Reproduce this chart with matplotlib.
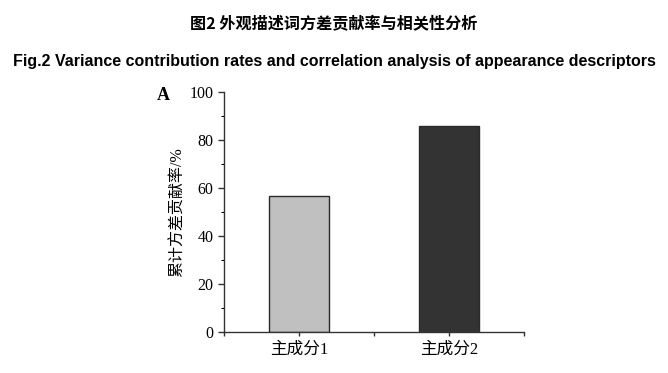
import matplotlib.pyplot as plt
import numpy as np

cn_serif = ['Liberation Serif', 'Noto Sans CJK SC']
cn_sans = ['Noto Sans CJK SC', 'DejaVu Sans']

labels = ['主成分1', '主成分2']
values = [56.7, 86.0]
colors = ['#c0c0c0', '#333333']

plt.rcParams['font.family'] = cn_serif

fig = plt.figure(figsize=(6.68, 3.73), dpi=100)
ax = fig.add_axes([0.3353, 0.1099, 0.4491, 0.6435])

x = np.array([1, 3])
ax.bar(x, values, 0.8, color=colors, edgecolor='#2a2a2a', linewidth=1.0)

ax.set_xlim(0, 4)
ax.set_ylim(0, 100)
ax.set_xticks([0, 1, 2, 3, 4])
ax.set_xticklabels(['', labels[0], '', labels[1], ''], fontsize=12, family=cn_serif)
ax.set_yticks(np.arange(0, 101, 20))
ax.set_yticks(np.arange(10, 100, 20), minor=True)
ax.tick_params(axis='y', labelsize=11.5, direction='out', length=4, width=1, color='#333333')
ax.tick_params(axis='y', which='minor', length=2.5, width=0.8)
ax.tick_params(axis='x', direction='out', length=3, width=1, color='#333333', pad=4)
for s in ['top', 'right']:
    ax.spines[s].set_visible(False)
for s in ['left', 'bottom']:
    ax.spines[s].set_linewidth(1.0)
    ax.spines[s].set_color('#333333')

ax.set_ylabel('累计方差贡献率/%', fontsize=11.5, family=cn_serif, labelpad=3)

fig.text(0.235, 0.745, 'A', fontsize=13, fontweight='bold', family='Liberation Serif', ha='left', va='center')

fig.text(0.5, 0.938, '图2 外观描述词方差贡献率与相关性分析', fontsize=11.6, fontweight='bold',
         family=cn_sans, ha='center', va='center')
fig.text(0.5, 0.834, 'Fig.2 Variance contribution rates and correlation analysis of appearance descriptors',
         fontsize=11.5, fontweight='bold', family='Liberation Sans', ha='center', va='center')

fig.savefig('out.png', dpi=100)
